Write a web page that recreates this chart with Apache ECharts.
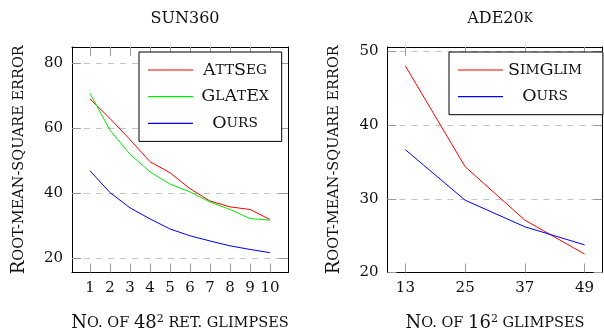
<!DOCTYPE html>
<html>
<head>
<meta charset="utf-8">
<script src="https://cdn.jsdelivr.net/npm/echarts@6/dist/echarts.min.js"></script>
<style>
  html, body {margin: 0; padding: 0; background: #fff;}
  #chart {width: 604px; height: 329px;}
</style>
</head>
<body>
<div id="chart"></div>
<script>
// SUN360 panel
const sunGlimpses = [1, 2, 3, 4, 5, 6, 7, 8, 9, 10];
const sunAttSeg = [68.9, 62.9, 56.4, 49.6, 46.2, 41.3, 37.5, 35.7, 34.9, 31.8];
const sunGlAtEx = [70.6, 59.3, 51.9, 46.5, 42.7, 40.3, 37.2, 34.9, 32.1, 31.6];
const sunOurs = [46.8, 40.1, 35.4, 32.0, 28.9, 26.8, 25.2, 23.7, 22.6, 21.6];
const sunYTicks = [20, 40, 60, 80];

// ADE20k panel
const adeGlimpses = [13, 25, 37, 49];
const adeSimGlim = [48.0, 34.35, 27.1, 22.5];
const adeOurs = [36.65, 29.8, 26.2, 23.75];
const adeYTicks = [20, 30, 40, 50];

const FONT = 'DejaVu Serif';
const INK = '#111';

// fake small caps: lowercase runs become smaller capitals
function sc(str) {
  let out = '', cur = null, buf = '';
  for (const ch of str) {
    let t;
    if (/[a-z]/.test(ch)) t = 's';
    else if (/[A-Z0-9]/.test(ch)) t = 'b';
    else t = cur || 's';
    if (t !== cur && buf) { out += '{' + cur + '|' + buf + '}'; buf = ''; }
    cur = t;
    buf += /[a-z]/.test(ch) ? ch.toUpperCase() : ch;
  }
  if (buf) out += '{' + cur + '|' + buf + '}';
  return out;
}

function richSet(big, small, lh) {
  return {
    b: {fontFamily: FONT, fontSize: big, color: INK, align: 'center', lineHeight: lh},
    s: {fontFamily: FONT, fontSize: small, color: INK, align: 'center', lineHeight: lh},
    sup: {fontFamily: FONT, fontSize: 11, color: INK, verticalAlign: 'top', align: 'center', lineHeight: lh}
  };
}
const nameRich = richSet(18, 14.5, 20);
const legendRich = richSet(17.5, 13.7, 18);

const pairs = (xs, ys) => xs.map((x, i) => [x, ys[i]]);

const tick = ticks => ({inside: true, length: 9, customValues: ticks, lineStyle: {color: '#999', width: 1}});
const frame = {show: true, lineStyle: {color: '#000', width: 1}};

function xAxes(gi, min, max, ticks, name) {
  return [
    {gridIndex: gi, type: 'value', min: min, max: max, position: 'bottom',
     axisLine: frame, splitLine: {show: false}, axisTick: tick(ticks),
     axisLabel: {customValues: ticks, margin: 8, fontFamily: FONT, fontSize: 15, color: INK},
     name: name, nameLocation: 'middle', nameGap: 41,
     nameTextStyle: {rich: nameRich}},
    {gridIndex: gi, type: 'value', min: min, max: max, position: 'top',
     axisLine: frame, splitLine: {show: false}, axisTick: tick(ticks), axisLabel: {show: false}}
  ];
}

function yAxes(gi, min, max, ticks, name) {
  return [
    {gridIndex: gi, type: 'value', min: min, max: max, position: 'left',
     axisLine: frame, axisTick: tick(ticks),
     axisLabel: {customValues: ticks, margin: 9, fontFamily: FONT, fontSize: 15, color: INK},
     splitLine: {show: true, lineStyle: {color: '#c4c4c4', type: [6, 6], width: 1}},
     name: name, nameLocation: 'middle', nameGap: 43, nameRotate: 90,
     nameTextStyle: {rich: nameRich}},
    {gridIndex: gi, type: 'value', min: min, max: max, position: 'right',
     axisLine: frame, axisTick: tick(ticks), axisLabel: {show: false}, splitLine: {show: false}}
  ];
}

function line(name, xi, yi, xs, ys, color) {
  return {
    name: name, type: 'line', xAxisIndex: xi, yAxisIndex: yi,
    data: pairs(xs, ys), symbol: 'none', z: 3,
    lineStyle: {color: color, width: 1}, itemStyle: {color: color}
  };
}

const legendBase = {
  orient: 'vertical', top: 52, icon: 'path://M0,0H45V1.2H0Z',
  itemWidth: 45, itemHeight: 14, itemGap: 8.7,
  backgroundColor: '#fff', borderColor: '#000', borderWidth: 1,
  formatter: n => sc(n.trim()),
  textStyle: {width: 74, rich: legendRich}
};

const chart = echarts.init(document.getElementById('chart'), null, {renderer: 'canvas'});
chart.setOption({
  animation: false,
  backgroundColor: '#fff',
  title: [
    {text: 'SUN360', left: 180, top: 6, textAlign: 'center',
     textStyle: {fontFamily: FONT, fontSize: 16, fontWeight: 'normal', color: INK}},
    {text: sc('ADE20k'), left: 495, top: 6, textAlign: 'center',
     textStyle: {fontFamily: FONT, fontSize: 16, fontWeight: 'normal', color: INK, rich: {
       b: {fontFamily: FONT, fontSize: 16, color: INK},
       s: {fontFamily: FONT, fontSize: 12, color: INK}}}}
  ],
  grid: [
    {left: 72, top: 47, width: 216, height: 225.5, outerBoundsMode: 'none', containLabel: false},
    {left: 387.5, top: 47, width: 215, height: 225.5, outerBoundsMode: 'none', containLabel: false}
  ],
  xAxis: [
    ...xAxes(0, 0.1, 10.9, sunGlimpses, sc('No. of 48') + '{sup|2}' + sc(' ret. glimpses')),
    ...xAxes(1, 9.4, 52.6, adeGlimpses, sc('No. of 16') + '{sup|2}' + sc(' glimpses'))
  ],
  yAxis: [
    ...yAxes(0, 15.5, 84.9, sunYTicks, sc('Root-mean-square error')),
    ...yAxes(1, 20, 50.58, adeYTicks, sc('Root-mean-square error'))
  ],
  legend: [
    Object.assign({}, legendBase, {left: 139, padding: [9, 13, 9, 9],
      data: ['AttSeg', 'GlAtEx', 'Ours']}),
    Object.assign({}, legendBase, {left: 449, padding: [9, 21, 9, 9],
      data: ['SimGlim', 'Ours ']})
  ],
  series: [
    line('AttSeg', 0, 0, sunGlimpses, sunAttSeg, '#ff0000'),
    line('GlAtEx', 0, 0, sunGlimpses, sunGlAtEx, '#00ee00'),
    line('Ours', 0, 0, sunGlimpses, sunOurs, '#0000ff'),
    line('SimGlim', 2, 2, adeGlimpses, adeSimGlim, '#ff0000'),
    line('Ours ', 2, 2, adeGlimpses, adeOurs, '#0000ff')
  ]
});
</script>
</body>
</html>
